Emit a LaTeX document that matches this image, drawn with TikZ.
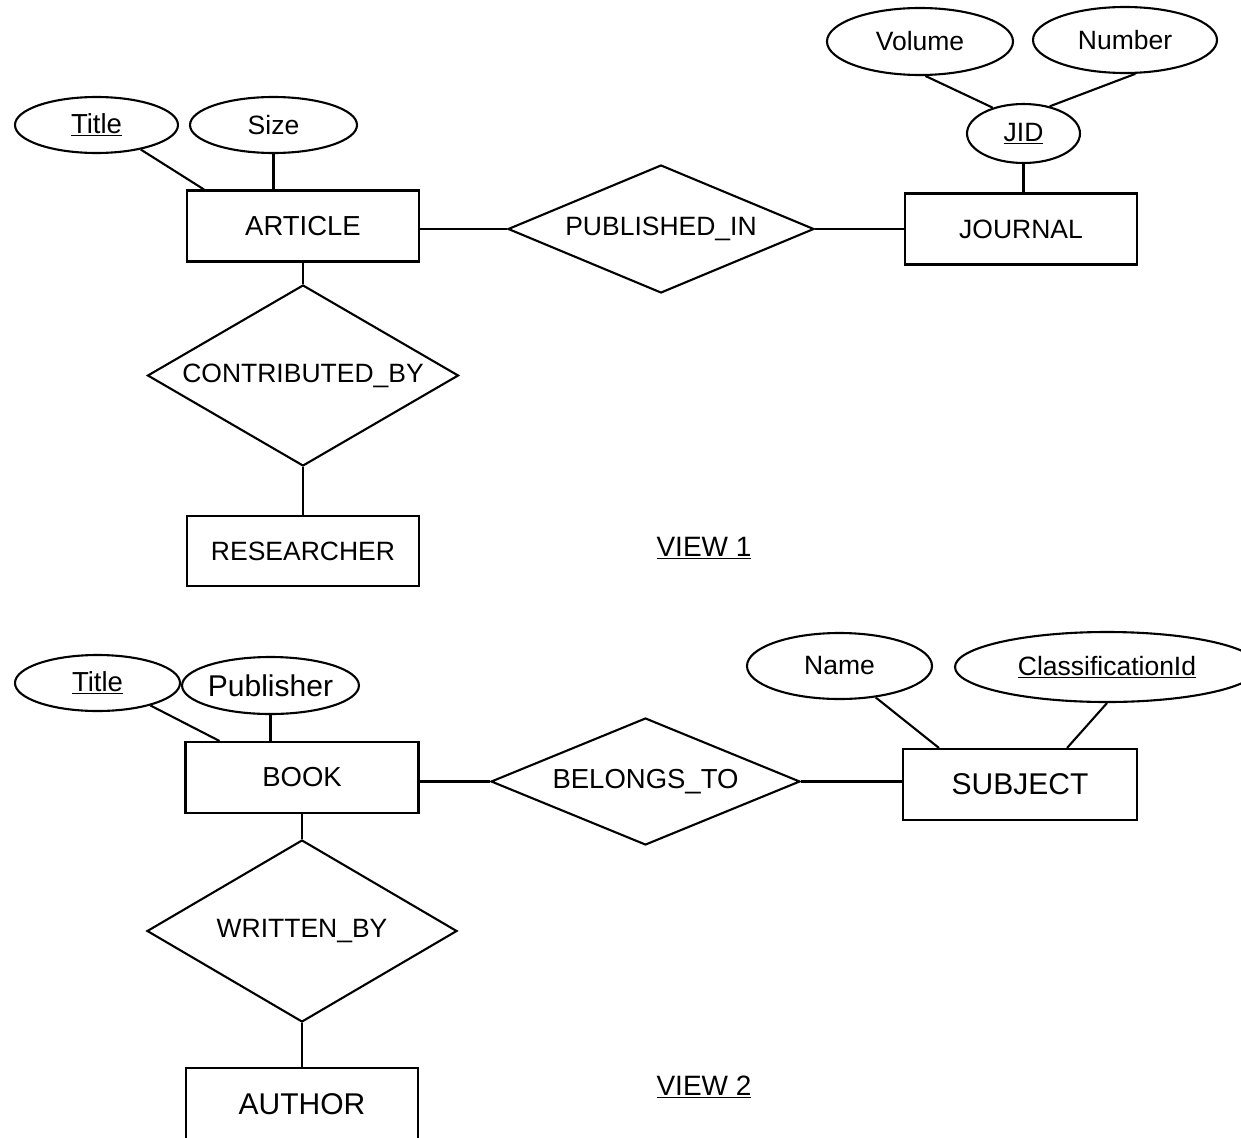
\documentclass[tikz,border=0pt]{standalone}
\usepackage{fontspec}
\setmainfont{Liberation Sans}
\usetikzlibrary{shapes.geometric}
\begin{document}
\begin{tikzpicture}[x=1pt,y=-1pt,
  every node/.style={inner sep=0pt,font=\fontsize{26.5}{31}\selectfont},
  big/.style={font=\fontsize{30}{35}\selectfont},
  mid/.style={font=\fontsize{27.5}{32}\selectfont},
  entity/.style={draw,rectangle,line width=2.1pt,minimum width=232pt,minimum height=71pt},
  attr/.style={draw,ellipse,line width=2.1pt},
  rel/.style={draw,diamond,line width=2.1pt},
  link/.style={line width=2.1pt}]
\clip (0,0) rectangle (1241,1137);
\fill[white] (0,0) rectangle (1241,1137);

% ---------- first view ----------
\node[entity,mid] (article) at (303,226) {ARTICLE};
\node[entity] (journal) at (1021,229) {JOURNAL};
\node[entity,minimum height=70pt] (researcher) at (303,551) {RESEARCHER};
\node[rel,aspect=2.39,minimum width=306pt,minimum height=128pt] (pub) at (661,229) {PUBLISHED\_IN};
\node[rel,aspect=1.72,minimum width=311pt,minimum height=181pt] (contrib) at (303,375.5) {CONTRIBUTED\_BY};

\node[attr,mid,minimum width=163pt,minimum height=56pt] (title1) at (96.5,125) {\underline{Title}};
\node[attr,minimum width=167pt,minimum height=56pt] (size) at (273.5,125) {Size};
\node[attr,minimum width=113pt,minimum height=59pt] (jid) at (1023.5,133.5) {\underline{JID}};
\node[attr,minimum width=186pt,minimum height=67pt] (volume) at (920,41.5) {Volume};
\node[attr,minimum width=184pt,minimum height=66pt] (number) at (1125,40) {Number};

\draw[link] (title1.-29) -- ([xshift=18pt]article.north west);
\draw[link] (size) -- (size |- article.north);
\draw[link] (volume.-81) -- (jid.140);
\draw[link] (number.-73) -- (jid.46);
\draw[link] (jid) -- (jid |- journal.north);
\draw[link] (pub.west) -- (pub.west -| article.east);
\draw[link] (pub.east) -- (pub.east -| journal.west);
\draw[link] (article) -- (contrib);
\draw[link] (contrib) -- (researcher);

\node[font=\fontsize{28}{33}\selectfont] (view1) at (704,548) {\underline{VIEW 1}};

% ---------- second view ----------
\node[entity,mid,minimum width=233pt] (book) at (302,777.5) {BOOK};
\node[entity,big,minimum width=234pt] (subject) at (1020,784.5) {SUBJECT};
\node[entity,big,minimum height=72pt] (author) at (302,1104) {AUTHOR};
\node[rel,mid,aspect=2.43,minimum width=309pt,minimum height=127pt] (belongs) at (645.5,781.5) {BELONGS\_TO};
\node[rel,aspect=1.70,minimum width=310pt,minimum height=182pt] (written) at (302,931) {WRITTEN\_BY};

\node[attr,mid,minimum width=165pt,minimum height=56pt] (title2) at (97.5,683) {\underline{Title}};
\node[attr,big,minimum width=165pt,minimum height=57pt] (publisher) at (270.5,685.5) {Publisher};
\node[attr,minimum width=185pt,minimum height=66pt] (name) at (839.5,666) {Name};
\node[attr,minimum width=304pt,minimum height=70pt] (classid) at (1107,667) {\underline{ClassificationId}};

\draw[link] (title2.-23) -- ([xshift=35pt]book.north west);
\draw[link] (publisher) -- (publisher |- book.north);
\draw[link] (name.-41) -- ([xshift=37pt]subject.north west);
\draw[link] (classid.south) -- ([xshift=-71pt]subject.north east);
\draw[link] (belongs.west) -- (belongs.west -| book.east);
\draw[link] (belongs.east) -- (belongs.east -| subject.west);
\draw[link] (book) -- (written);
\draw[link] (written) -- (author);

\node[font=\fontsize{28}{33}\selectfont] (view2) at (704,1087) {\underline{VIEW 2}};
\end{tikzpicture}
\end{document}
